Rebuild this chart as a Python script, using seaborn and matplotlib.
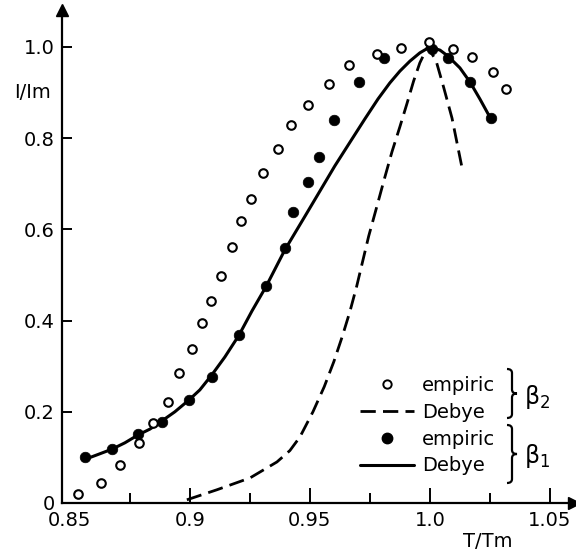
import numpy as np
import pandas as pd
import matplotlib
matplotlib.use("Agg")
import matplotlib.pyplot as plt
import seaborn as sns
from matplotlib.lines import Line2D
from matplotlib.path import Path
from matplotlib.patches import PathPatch

# --- data (T/Tm, I/Im) ---
b2_emp_x = [0.8535, 0.8630, 0.8709, 0.8789, 0.8847, 0.8909, 0.8955, 0.9009, 0.9051,
            0.9088, 0.9130, 0.9176, 0.9213, 0.9255, 0.9305, 0.9367, 0.9421, 0.9492,
            0.9580, 0.9663, 0.9779, 0.9879, 0.9996, 1.0096, 1.0175, 1.0262, 1.0316]
b2_emp_y = [0.020, 0.044, 0.083, 0.132, 0.175, 0.221, 0.285, 0.338, 0.395,
            0.443, 0.498, 0.561, 0.618, 0.667, 0.724, 0.776, 0.829, 0.873,
            0.919, 0.961, 0.985, 0.998, 1.011, 0.996, 0.978, 0.945, 0.908]

b1_emp_x = [0.8564, 0.8676, 0.8784, 0.8884, 0.8997, 0.9092, 0.9205, 0.9317, 0.9396,
            0.9430, 0.9492, 0.9538, 0.9600, 0.9704, 0.9808, 1.0008, 1.0075, 1.0167, 1.0254]
b1_emp_y = [0.101, 0.118, 0.151, 0.178, 0.226, 0.276, 0.368, 0.476, 0.559,
            0.638, 0.704, 0.759, 0.840, 0.923, 0.976, 0.996, 0.976, 0.923, 0.844]

b1_deb_x = [0.8555, 0.8611, 0.8676, 0.8730, 0.8784, 0.8834, 0.8884, 0.8938, 0.8997,
            0.9042, 0.9092, 0.9146, 0.9205, 0.9259, 0.9317, 0.9396, 0.9480, 0.9542,
            0.9604, 0.9667, 0.9729, 0.9784, 0.9833, 0.9875, 0.9917, 0.9958, 1.0000,
            1.0042, 1.0075, 1.0125, 1.0167, 1.0208, 1.0254]
b1_deb_y = [0.094, 0.105, 0.118, 0.132, 0.149, 0.162, 0.180, 0.200, 0.226,
            0.248, 0.281, 0.320, 0.368, 0.421, 0.474, 0.555, 0.629, 0.684,
            0.739, 0.791, 0.842, 0.886, 0.921, 0.947, 0.969, 0.987, 1.000,
            0.993, 0.980, 0.954, 0.923, 0.886, 0.842]

b2_deb_x = [0.8988, 0.9113, 0.9251, 0.9363, 0.9417, 0.9459, 0.9513, 0.9560, 0.9600,
            0.9635, 0.9667, 0.9695, 0.9720, 0.9745, 0.9779, 0.9810, 0.9842, 0.9875,
            0.9904, 0.9932, 0.9958, 0.9990, 1.0025, 1.0058, 1.0092, 1.0133]
b2_deb_y = [0.007, 0.029, 0.055, 0.090, 0.115, 0.145, 0.200, 0.255, 0.310,
            0.365, 0.420, 0.475, 0.530, 0.585, 0.650, 0.710, 0.770, 0.825,
            0.875, 0.925, 0.965, 1.000, 0.971, 0.910, 0.844, 0.737]

x_major = [0.85, 0.9, 0.95, 1.0, 1.05]
x_major_labels = ["0.85", "0.9", "0.95", "1.0", "1.05"]
x_minor = [0.875, 0.925, 0.975, 1.025]
y_major = [0, 0.2, 0.4, 0.6, 0.8, 1.0]
y_major_labels = ["0", "0.2", "0.4", "0.6", "0.8", "1.0"]

sns.set_style("white")
plt.rcParams['font.family'] = ['DejaVu Sans']
plt.rcParams['mathtext.fontset'] = 'dejavusans'
for key in ['text.color', 'axes.labelcolor', 'xtick.color', 'ytick.color']:
    plt.rcParams[key] = 'black'

W, H = 576, 551
fig = plt.figure(figsize=(W / 100, H / 100), dpi=100)
# axes frame in pixels: left 62, right 574, bottom 503, top 10
ax = fig.add_axes([62 / W, (H - 503) / H, 512 / W, 493 / H])
ax.set_xlim(0.8468, 1.0600)
ax.set_ylim(0, 1.081)

sns.lineplot(x=b1_deb_x, y=b1_deb_y, ax=ax, color='k', lw=2.2,
             estimator=None, sort=False)
sns.lineplot(x=b2_deb_x, y=b2_deb_y, ax=ax, color='k', lw=2.0,
             estimator=None, sort=False, linestyle=(0, (5.5, 2.6)))
sns.scatterplot(x=b2_emp_x, y=b2_emp_y, ax=ax, marker='o', s=38,
                facecolor='white', edgecolor='k', linewidth=1.5, zorder=4)
sns.scatterplot(x=b1_emp_x, y=b1_emp_y, ax=ax, marker='o', s=58,
                color='k', edgecolor='k', linewidth=0.5, zorder=3)

# axes styling: only left/bottom with arrows
for s in ['top', 'right']:
    ax.spines[s].set_visible(False)
for s in ['left', 'bottom']:
    ax.spines[s].set_linewidth(1.6)
    ax.spines[s].set_color('k')
ax.plot(1, 0, marker='>', ms=9, color='k', transform=ax.transAxes, clip_on=False)
ax.plot(0, 1, marker='^', ms=9, color='k', transform=ax.transAxes, clip_on=False)

ax.set_xticks(x_major)
ax.set_xticklabels(x_major_labels)
ax.set_xticks(x_minor, minor=True)
ax.set_yticks(y_major)
ax.set_yticklabels(y_major_labels)
ax.tick_params(axis='x', which='major', direction='in', length=11, width=1.4,
               pad=6, labelsize=14, bottom=True)
ax.tick_params(axis='x', which='minor', direction='in', length=7, width=1.4,
               bottom=True)
ax.tick_params(axis='y', which='major', direction='in', length=7, width=1.4,
               pad=5, labelsize=14, left=True)
ax.xaxis.get_major_ticks()[0].tick1line.set_visible(False)
ax.yaxis.get_major_ticks()[0].tick1line.set_visible(False)

ax.text(-0.058, 0.832, "I/Im", transform=ax.transAxes, ha='center', va='center',
        fontsize=14)
ax.text(0.832, -0.079, "T/Tm", transform=ax.transAxes, ha='center', va='center',
        fontsize=14)

# legend
handles = [
    Line2D([], [], ls='none', marker='o', ms=6, mfc='white', mec='k', mew=1.4),
    Line2D([], [], color='k', lw=2.0, ls=(0, (5.5, 2.6))),
    Line2D([], [], ls='none', marker='o', ms=7.5, mfc='k', mec='k'),
    Line2D([], [], color='k', lw=2.2),
]
labels = ["empiric", "Debye", "empiric", "Debye"]
ax.legend(handles, labels, loc='upper left',
          bbox_to_anchor=((360 - 62) / 512, (503 - 376) / 493),
          frameon=False, borderpad=0, borderaxespad=0, fontsize=14,
          handlelength=2.8, handletextpad=0.4, labelspacing=0.4)


def px(x, y):
    return ((x - 62) / 512, (503 - y) / 493)


def brace(x0, yt, yb, w=10, r=4):
    h = w / 2
    ym = (yt + yb) / 2
    pts = [(x0, yt), (x0 + h, yt), (x0 + h, yt + r), (x0 + h, ym - r),
           (x0 + h, ym), (x0 + w, ym), (x0 + h, ym), (x0 + h, ym + r),
           (x0 + h, yb - r), (x0 + h, yb), (x0, yb)]
    codes = [Path.MOVETO, Path.CURVE3, Path.CURVE3, Path.LINETO,
             Path.CURVE3, Path.CURVE3, Path.CURVE3, Path.CURVE3,
             Path.LINETO, Path.CURVE3, Path.CURVE3]
    path = Path([px(*p) for p in pts], codes)
    ax.add_patch(PathPatch(path, fc='none', ec='k', lw=1.6,
                           transform=ax.transAxes, clip_on=False))


brace(507, 369, 418)
brace(507, 425, 483)
ax.text(*px(524, 397), r"$\mathregular{\beta_2}$", transform=ax.transAxes,
        ha='left', va='center', fontsize=17)
ax.text(*px(524, 456), r"$\mathregular{\beta_1}$", transform=ax.transAxes,
        ha='left', va='center', fontsize=17)

fig.savefig("out.png", dpi=100)
